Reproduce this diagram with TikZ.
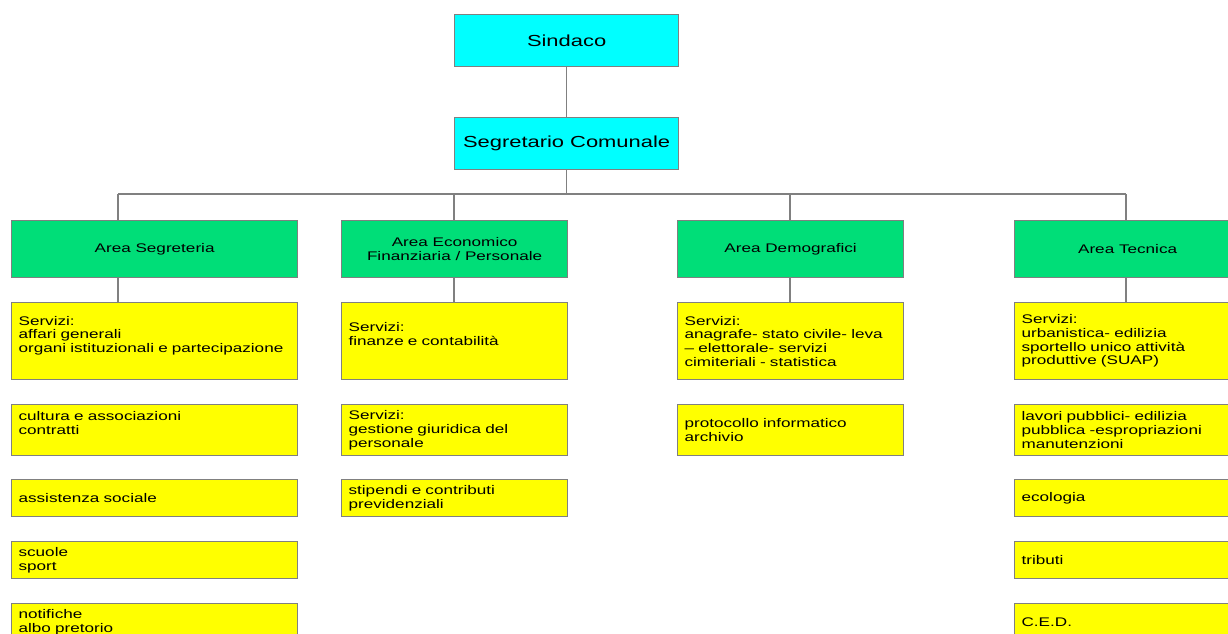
\documentclass[tikz,border=0pt]{standalone}
\usepackage{fontspec}
\usetikzlibrary{positioning}
\newfontfamily\orgfont[FakeStretch=1.37]{Liberation Sans}
\definecolor{topcyan}{RGB}{0,255,255}
\definecolor{areagreen}{RGB}{0,222,120}
\definecolor{servyellow}{RGB}{255,255,0}
\definecolor{linegray}{RGB}{128,128,128}
\begin{document}
\begin{tikzpicture}[x=1pt, y=-1pt,
		every node/.style={draw=linegray, line width=1.2pt, anchor=north west, inner ysep=0pt},
		topbox/.style={fill=topcyan, minimum width=224pt, minimum height=52pt, font=\orgfont\fontsize{16}{18}\selectfont},
		areabox/.style={fill=areagreen, minimum width=#1, minimum height=57pt, align=center, font=\orgfont\fontsize{12.5}{13.3}\selectfont},
		areabox/.default=226pt,
		servbox/.style 2 args={fill=servyellow, minimum width=#1, text width=#1-14pt, inner xsep=7pt, minimum height=#2, align=left, font=\orgfont\fontsize{12.5}{13.7}\selectfont},
		link/.style={draw=linegray, line width=1.5pt}]
		\useasboundingbox (0,0) rectangle (1228,634);

		% vertici
		\node[topbox] (sind) at (454,14) {Sindaco};
		\node[topbox] (segr) at (454,117) {Segretario Comunale};

		% aree
		\node[areabox=286pt] (aseg) at (11,220) {Area Segreteria};
		\node[areabox] (aeco) at (341,220) {Area Economico\\Finanziaria / Personale};
		\node[areabox] (adem) at (677,220) {Area Demografici};
		\node[areabox] (atec) at (1014,220) {Area Tecnica};

		% servizi area segreteria
		\node[servbox={286pt}{77pt}] (seg1) at (11,302) {Servizi:\\affari generali\\organi istituzionali e partecipazione\\~};
		\node[servbox={286pt}{51pt}] (seg2) at (11,404) {cultura e associazioni\\contratti\\~};
		\node[servbox={286pt}{37pt}] (seg3) at (11,479) {assistenza sociale};
		\node[servbox={286pt}{37pt}] (seg4) at (11,541) {scuole\\sport};
		\node[servbox={286pt}{37pt}] (seg5) at (11,603) {notifiche\\albo pretorio};

		% servizi area economico finanziaria
		\node[servbox={226pt}{77pt}] (eco1) at (341,302) {Servizi:\\finanze e contabilità\\~};
		\node[servbox={226pt}{51pt}] (eco2) at (341,404) {Servizi:\\gestione giuridica del\\personale};
		\node[servbox={226pt}{37pt}] (eco3) at (341,479) {stipendi e contributi\\previdenziali};

		% servizi area demografici
		\node[servbox={226pt}{77pt}] (dem1) at (677,302) {Servizi:\\anagrafe- stato civile- leva\\– elettorale- servizi\\cimiteriali - statistica};
		\node[servbox={226pt}{51pt}] (dem2) at (677,404) {protocollo informatico\\archivio};

		% servizi area tecnica
		\node[servbox={226pt}{77pt}] (tec1) at (1014,302) {Servizi:\\urbanistica- edilizia\\sportello unico attività\\produttive (SUAP)};
		\node[servbox={226pt}{51pt}] (tec2) at (1014,404) {lavori pubblici- edilizia\\pubblica -espropriazioni\\manutenzioni};
		\node[servbox={226pt}{37pt}] (tec3) at (1014,479) {ecologia};
		\node[servbox={226pt}{37pt}] (tec4) at (1014,541) {tributi};
		\node[servbox={226pt}{37pt}] (tec5) at (1014,603) {C.E.D.};

		% collegamenti
		\coordinate (bseg) at (118,194);
		\coordinate (beco) at (454,194);
		\coordinate (bdem) at (790,194);
		\coordinate (btec) at (1126,194);

		\draw[link] (sind.south) -- (segr.north);
		\draw[link] (segr.south) -- (segr.south |- bseg);
		\draw[link] (bseg) -- (btec);
		\foreach \b/\a/\s in {bseg/aseg/seg1, beco/aeco/eco1, bdem/adem/dem1, btec/atec/tec1} {
			\draw[link] (\b) -- (\b |- \a.north);
			\draw[link] (\b |- \a.south) -- (\b |- \s.north);
		}
\end{tikzpicture}
\end{document}
